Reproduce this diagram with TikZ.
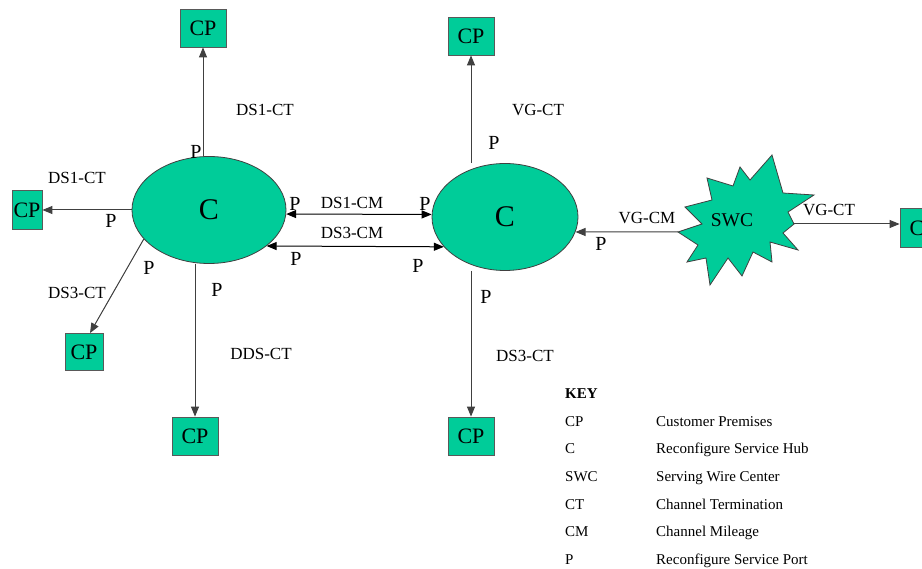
\documentclass[tikz,border=0pt]{standalone}
\usepackage{fontspec}
\setmainfont{Liberation Serif}
\usetikzlibrary{arrows.meta,shapes.geometric}
\definecolor{hub}{HTML}{00CC99}
\definecolor{edge}{HTML}{404040}
\tikzset{
  hubnode/.style={ellipse,draw=edge,line width=0.8pt,fill=hub,inner sep=0pt,font=\fontsize{30}{32}\selectfont},
  cpbox/.style={rectangle,draw=gray!70!black,line width=0.8pt,fill=hub,inner sep=0pt,font=\fontsize{22}{24}\selectfont},
  conn/.style={draw=edge,line width=1pt,-{Triangle[length=10pt,width=8pt]}},
  dconn/.style={draw=black,line width=1pt,{Triangle[length=10pt,width=8pt]}-{Triangle[length=10pt,width=8pt]}},
  plabel/.style={font=\fontsize{20}{22}\selectfont,inner sep=0pt},
  clabel/.style={font=\fontsize{17}{19}\selectfont,inner sep=0pt},
  keytxt/.style={font=\fontsize{15}{17}\selectfont,inner sep=0pt,anchor=base west}
}
\begin{document}
\begin{tikzpicture}[x=1pt,y=-1pt]
\useasboundingbox[fill=white] (0,0) rectangle (922,569);

% hubs
\node[hubnode,minimum width=154pt,minimum height=107pt] (c1) at (209,210) {C};
\node[hubnode,minimum width=146pt,minimum height=107pt] (c2) at (505,217) {C};

% customer premises
\node[cpbox,minimum width=46pt,minimum height=38pt] (cpTL) at (203,28) {CP};
\node[cpbox,minimum width=30pt,minimum height=39pt] (cpL) at (27,210) {CP};
\node[cpbox,minimum width=38pt,minimum height=37pt] (cpD) at (84,352) {CP};
\node[cpbox,minimum width=46pt,minimum height=38pt] (cpBL) at (195,436) {CP};
\node[cpbox,minimum width=46pt,minimum height=38pt] (cpTR) at (471,36) {CP};
\node[cpbox,minimum width=46pt,minimum height=38pt] (cpBR) at (471,436) {CP};
\node[cpbox,minimum width=46pt,minimum height=39pt] (cpR) at (923,228) {CP};

% serving wire center (starburst)
\draw[draw=edge,line width=0.8pt,fill=hub]
  (772,155) -- (783,193) -- (814,195) -- (788,212) -- (794,224) -- (783,233)
  -- (798,250) -- (770,242) -- (772,262) -- (753,252) -- (742,276) -- (728,258)
  -- (710,285) -- (706,258) -- (687,262) -- (698,245) -- (678,232) -- (702,224)
  -- (685,207) -- (712,200) -- (707,178) -- (733,186) -- (740,167) -- (750,180) -- cycle;
\node[font=\fontsize{19.5}{21}\selectfont,inner sep=0pt] (swc) at (732,220) {SWC};
\coordinate (swcL) at (678,232);
\coordinate (swcR) at (793,224);

% connectors from left hub
\draw[conn] (cpTL |- c1.north) -- (cpTL.south);
\draw[conn] (c1.west) -- (cpL.east);
\draw[conn] (c1.204) -- ([xshift=6pt]cpD.north);
\draw[conn] (cpBL |- c1.south) -- (cpBL.north);
% channel mileage between hubs
\draw[dconn] (c1.-3) -- (c2.178.4);
\draw[dconn] (c1.-32.7) -- (c2.206.2);
% connectors from right hub
\draw[conn] (cpTR |- c2.north) -- (cpTR.south);
\draw[conn] (cpBR |- c2.south) -- (cpBR.north);
\draw[conn] (swcL) -- (c2.-12);
\draw[conn] (swcR) -- (swcR -| cpR.west);

% connector labels
\node[clabel] (l1) at (265,110) {DS1-CT};
\node[clabel] (l2) at (77,178) {DS1-CT};
\node[clabel] (l3) at (77,293) {DS3-CT};
\node[clabel] (l4) at (261,354) {DDS-CT};
\node[clabel] (l5) at (352,203) {DS1-CM};
\node[clabel] (l6) at (352,233) {DS3-CM};
\node[clabel] (l7) at (538,110) {VG-CT};
\node[clabel] (l8) at (525,356) {DS3-CT};
\node[clabel] (l9) at (647,218) {VG-CM};
\node[clabel] (l10) at (829,210) {VG-CT};

% port labels
\node[plabel] (p1) at (196,152) {P};
\node[plabel] (p2) at (111,221) {P};
\node[plabel] (p3) at (149,268) {P};
\node[plabel] (p4) at (217,290) {P};
\node[plabel] (p5) at (295,204) {P};
\node[plabel] (p6) at (425,204) {P};
\node[plabel] (p7) at (296,259) {P};
\node[plabel] (p8) at (418,266) {P};
\node[plabel] (p9) at (494,143) {P};
\node[plabel] (p10) at (486,297) {P};
\node[plabel] (p11) at (601,244) {P};

% key
\node[keytxt,font=\fontsize{15}{17}\selectfont\bfseries] (kh) at (565,399) {KEY};
\node[keytxt] (k1a) at (565,426.5) {CP};
\node[keytxt] (k1b) at (656,426.5) {Customer Premises};
\node[keytxt] (k2a) at (565,454) {C};
\node[keytxt] (k2b) at (656,454) {Reconfigure Service Hub};
\node[keytxt] (k3a) at (565,481.5) {SWC};
\node[keytxt] (k3b) at (656,481.5) {Serving Wire Center};
\node[keytxt] (k4a) at (565,509) {CT};
\node[keytxt] (k4b) at (656,509) {Channel Termination};
\node[keytxt] (k5a) at (565,536.5) {CM};
\node[keytxt] (k5b) at (656,536.5) {Channel Mileage};
\node[keytxt] (k6a) at (565,564) {P};
\node[keytxt] (k6b) at (656,564) {Reconfigure Service Port};
\end{tikzpicture}
\end{document}
